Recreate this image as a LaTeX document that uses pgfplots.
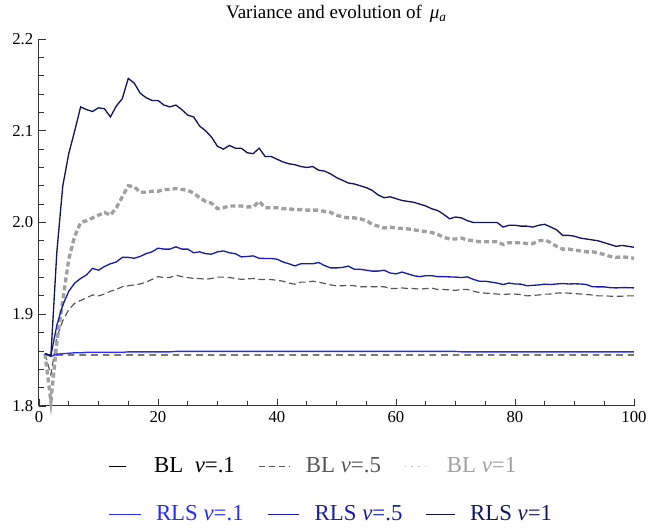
\documentclass[border=0pt]{standalone}
\usepackage{fontspec}
\setmainfont{Liberation Serif}
\usepackage{pgfplots}
\pgfplotsset{compat=1.18}
\usepackage{pgfplotstable}
\definecolor{rlsA}{HTML}{2A2AFF}
\definecolor{rlsB}{HTML}{1C1CA8}
\definecolor{rlsC}{HTML}{15155E}
\definecolor{blA}{HTML}{333333}
\definecolor{blB}{HTML}{555555}
\definecolor{blC}{HTML}{A0A0A0}
\definecolor{axisgray}{HTML}{333333}

\pgfplotstableread{
t rlsC blC rlsB blB rlsA blA
1 1.857 1.857 1.857 1.857 1.857 1.857
2 1.855 1.805 1.855 1.834 1.854 1.8545
3 1.968 1.870 1.888 1.875 1.8565 1.8555
4 2.040 1.915 1.910 1.893 1.857 1.8555
5 2.075 1.960 1.925 1.905 1.8575 1.8555
6 2.100 1.985 1.934 1.912 1.858 1.8555
7 2.126 2.000 1.939 1.915 1.858 1.8555
8 2.123 2.002 1.943 1.918 1.8585 1.8555
9 2.121 2.005 1.950 1.921 1.8585 1.8555
10 2.125 2.008 1.948 1.920 1.8585 1.8555
11 2.124 2.011 1.952 1.922 1.8585 1.8555
12 2.115 2.008 1.955 1.925 1.8585 1.8555
13 2.127 2.016 1.957 1.927 1.8585 1.8555
14 2.135 2.028 1.962 1.930 1.8585 1.8555
15 2.157 2.040 1.962 1.931 1.859 1.8555
16 2.152 2.039 1.961 1.932 1.859 1.8555
17 2.141 2.033 1.963 1.933 1.859 1.8555
18 2.136 2.033 1.966 1.935 1.859 1.8555
19 2.133 2.034 1.968 1.938 1.859 1.8555
20 2.133 2.034 1.972 1.941 1.859 1.8555
21 2.128 2.036 1.971 1.940 1.859 1.8555
22 2.126 2.036 1.971 1.940 1.859 1.8555
23 2.128 2.037 1.9735 1.9426 1.8595 1.8555
24 2.123 2.036 1.971 1.941 1.8595 1.8555
25 2.117 2.035 1.971 1.940 1.8595 1.8555
26 2.115 2.032 1.967 1.939 1.8595 1.8555
27 2.105 2.027 1.968 1.939 1.8595 1.8555
28 2.100 2.023 1.966 1.938 1.8595 1.8555
29 2.093 2.021 1.9655 1.939 1.8595 1.8555
30 2.083 2.015 1.968 1.9405 1.8595 1.8555
31 2.080 2.016 1.969 1.9405 1.8595 1.8555
32 2.084 2.018 1.967 1.940 1.8595 1.8555
33 2.081 2.018 1.966 1.939 1.8595 1.8555
34 2.081 2.018 1.9625 1.938 1.8595 1.8555
35 2.076 2.017 1.963 1.9385 1.8595 1.8555
36 2.075 2.017 1.9636 1.939 1.8595 1.8555
37 2.081 2.023 1.961 1.938 1.8595 1.8555
38 2.072 2.016 1.9608 1.9378 1.8595 1.8555
39 2.072 2.016 1.9608 1.9378 1.8595 1.8555
40 2.069 2.016 1.960 1.937 1.8595 1.8555
41 2.066 2.015 1.957 1.936 1.8595 1.8555
42 2.064 2.015 1.955 1.934 1.8595 1.8555
43 2.063 2.014 1.9527 1.9328 1.8595 1.8555
44 2.061 2.014 1.955 1.935 1.8595 1.8555
45 2.060 2.0135 1.955 1.935 1.8595 1.8555
46 2.061 2.0135 1.955 1.936 1.8595 1.8555
47 2.057 2.0135 1.9564 1.935 1.8595 1.8555
48 2.056 2.012 1.953 1.9335 1.8595 1.8555
49 2.053 2.011 1.9505 1.932 1.8595 1.8555
50 2.049 2.008 1.9505 1.931 1.8595 1.8555
51 2.046 2.006 1.951 1.931 1.8595 1.8555
52 2.043 2.005 1.9524 1.9317 1.8595 1.8555
53 2.042 2.005 1.949 1.931 1.8595 1.8555
54 2.040 2.004 1.949 1.930 1.8595 1.8555
55 2.038 2.002 1.948 1.930 1.8595 1.8555
56 2.035 1.998 1.947 1.930 1.8595 1.8555
57 2.030 1.996 1.947 1.930 1.8595 1.8555
58 2.027 1.994 1.948 1.930 1.8595 1.8555
59 2.028 1.995 1.945 1.928 1.8595 1.8555
60 2.026 1.994 1.944 1.928 1.8595 1.8555
61 2.024 1.9935 1.946 1.9287 1.8595 1.8555
62 2.023 1.993 1.944 1.928 1.8595 1.8555
63 2.022 1.992 1.942 1.928 1.8595 1.8555
64 2.020 1.991 1.941 1.9273 1.8595 1.8555
65 2.018 1.990 1.942 1.928 1.8595 1.8555
66 2.015 1.989 1.942 1.9285 1.8595 1.8555
67 2.013 1.987 1.941 1.927 1.8595 1.8555
68 2.009 1.984 1.941 1.927 1.8595 1.8555
69 2.004 1.982 1.9407 1.9265 1.8595 1.8555
70 2.006 1.982 1.9405 1.926 1.8595 1.8555
71 2.005 1.983 1.940 1.927 1.859 1.8555
72 2.002 1.981 1.9407 1.927 1.859 1.8555
73 2.000 1.980 1.938 1.925 1.859 1.8555
74 2.000 1.979 1.936 1.9237 1.859 1.8555
75 2.000 1.979 1.936 1.923 1.859 1.8555
76 2.000 1.979 1.935 1.9226 1.859 1.8555
77 2.000 1.979 1.934 1.922 1.859 1.8555
78 1.995 1.976 1.9324 1.9215 1.859 1.8555
79 1.997 1.978 1.934 1.922 1.859 1.8555
80 1.997 1.978 1.933 1.922 1.859 1.8555
81 1.996 1.978 1.9328 1.9215 1.859 1.8555
82 1.996 1.977 1.931 1.920 1.859 1.8555
83 1.995 1.977 1.9315 1.9205 1.859 1.8555
84 1.997 1.980 1.932 1.921 1.859 1.8555
85 1.998 1.981 1.9328 1.9219 1.859 1.8555
86 1.995 1.978 1.9324 1.922 1.859 1.8555
87 1.992 1.974 1.933 1.923 1.859 1.8555
88 1.986 1.971 1.9335 1.9233 1.859 1.8555
89 1.986 1.971 1.933 1.923 1.859 1.8555
90 1.985 1.970 1.9332 1.9226 1.859 1.8555
91 1.983 1.969 1.933 1.922 1.859 1.8555
92 1.982 1.968 1.9324 1.9215 1.859 1.8555
93 1.981 1.968 1.930 1.921 1.859 1.8555
94 1.980 1.967 1.9298 1.920 1.859 1.8555
95 1.978 1.965 1.9298 1.920 1.859 1.8555
96 1.976 1.963 1.929 1.9197 1.859 1.8555
97 1.974 1.962 1.9287 1.9197 1.859 1.8555
98 1.975 1.9625 1.929 1.9197 1.859 1.8555
99 1.974 1.962 1.929 1.920 1.859 1.8555
100 1.973 1.961 1.9287 1.920 1.859 1.8555
}\data

\pgfplotsset{
  mylegend/.style={
    legend style={draw=none, fill=none, inner sep=0pt, anchor=west,
      font=\fontsize{13.7}{16}\selectfont,
      nodes={inner sep=0pt, anchor=base},
      /tikz/every odd column/.append style={column sep=9pt},
      /tikz/every even column/.append style={column sep=14pt}},
    legend columns=3, legend cell align=left},
}

\begin{document}
\begin{tikzpicture}
\useasboundingbox (-23.4pt,-74.4pt) rectangle (366pt,243.6pt);
\begin{axis}[at={(0pt,0pt)}, anchor=south west, scale only axis,
  width=357pt, height=220.2pt,
  xmin=0, xmax=100, ymin=1.8, ymax=2.2,
  axis lines=left, axis line style={-, axisgray, line width=0.6pt},
  xtick={0,20,40,60,80,100}, ytick={1.8,1.9,2.0,2.1,2.2},
  xticklabels={0,20,40,60,80,100}, yticklabels={1.8,1.9,2.0,2.1,2.2},
  minor x tick num=3, minor y tick num=4,
  tick align=inside, major tick length=4.2pt, minor tick length=2.8pt,
  tick style={axisgray, line width=0.5pt},
  ticklabel style={font=\rmfamily\fontsize{10}{12}\selectfont},
  title={Variance and evolution of \,\textit{μ}\textsubscript{\textit{a}}},
  title style={at={(0.5,1)}, anchor=base, yshift=6pt, font=\fontsize{11.4}{13}\selectfont},
  mylegend,
  legend style={at={(axis description cs:0.116,-0.1635)}},
  clip=false,
]
\addplot[forget plot, blA, line width=0.7pt, dash pattern=on 4pt off 3pt] table[x=t, y=blA] {\data};
\addplot[forget plot, blB, line width=0.7pt, dash pattern=on 4pt off 2.2pt] table[x=t, y=blB] {\data};
\addplot[forget plot, blC, line width=2pt, dash pattern=on 3pt off 1.8pt] table[x=t, y=blC] {\data};
\addplot[forget plot, rlsA, line width=0.8pt] table[x=t, y=rlsA] {\data};
\addplot[forget plot, rlsB, line width=0.8pt] table[x=t, y=rlsB] {\data};
\addplot[forget plot, rlsC, line width=0.8pt] table[x=t, y=rlsC] {\data};
\addlegendimage{legend image code/.code={\draw[black, line width=0.6pt] (0pt,0.35em) -- (10pt,0.35em); \path (18pt,0.35em);}}
\addlegendentry{\textcolor{black}{BL\ \ \textit{ν}=.1}}
\addlegendimage{legend image code/.code={\draw[blB, line width=0.6pt, dash pattern=on 3.5pt off 2.5pt] (0pt,0.35em) -- (19pt,0.35em);}}
\addlegendentry{\textcolor{blB}{BL \textit{ν}=.5}}
\addlegendimage{legend image code/.code={\draw[blC!70, line width=0.6pt, dash pattern=on 1pt off 3pt] (0pt,0.35em) -- (16pt,0.35em);}}
\addlegendentry{\textcolor{blC}{BL \textit{ν}=1}}
\end{axis}
\begin{axis}[at={(0pt,0pt)}, anchor=south west, scale only axis,
  width=357pt, height=220.2pt, hide axis,
  xmin=0, xmax=1, ymin=0, ymax=1,
  mylegend,
  legend style={at={(axis description cs:0.116,-0.294)}},
]
\addlegendimage{legend image code/.code={\draw[rlsA, line width=0.6pt] (0pt,0.35em) -- (19pt,0.35em);}}
\addlegendentry{\textcolor{rlsA}{RLS \textit{ν}=.1}}
\addlegendimage{legend image code/.code={\draw[rlsB, line width=0.6pt] (0pt,0.35em) -- (19pt,0.35em);}}
\addlegendentry{\textcolor{rlsB}{RLS \textit{ν}=.5}}
\addlegendimage{legend image code/.code={\draw[rlsC, line width=0.6pt] (0pt,0.35em) -- (17pt,0.35em);}}
\addlegendentry{\textcolor{rlsC}{RLS \textit{ν}=1}}
\end{axis}
\end{tikzpicture}
\end{document}
